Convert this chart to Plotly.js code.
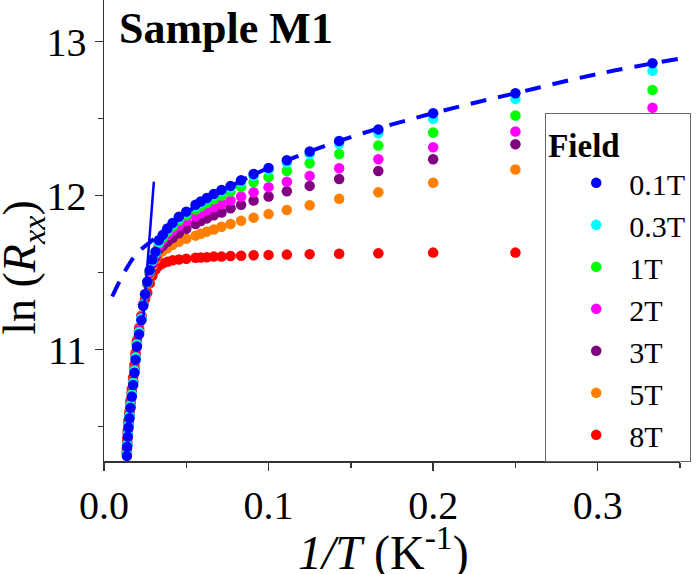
<!DOCTYPE html>
<html>
<head>
<meta charset="utf-8">
<script src="https://cdn.plot.ly/plotly-3.0.1.min.js"></script>
<style>html,body{margin:0;padding:0;background:#fff;}#chart{width:700px;height:574px;}</style>
</head>
<body>
<div id="chart"></div>
<script>
// 1/T values (K^-1) shared by all field series
const invT = [0.3333, 0.25, 0.2, 0.1667, 0.1429, 0.125, 0.1111, 0.1, 0.0909, 0.0833, 0.0769, 0.0714, 0.0667, 0.0625, 0.0588, 0.0556,
  0.05, 0.0455, 0.0417, 0.0385, 0.0357, 0.0333, 0.0313, 0.0294, 0.0278, 0.0263, 0.025,
  0.0238, 0.0227, 0.0213, 0.02, 0.0192, 0.0185, 0.0177, 0.0169, 0.0161, 0.0155, 0.0149, 0.0145, 0.0141, 0.0139];

const fieldLabels = ['0.1T', '0.3T', '1T', '2T', '3T', '5T', '8T'];
const fieldColors = ['#0000ff', '#00ffff', '#00ff00', '#ff00ff', '#800080', '#ff8000', '#ff0000'];

const lnR_01T = [12.86, 12.665, 12.535, 12.43, 12.355, 12.286, 12.23, 12.18, 12.14, 12.10, 12.063, 12.037, 12.011, 11.985, 11.962, 11.94,
  11.896, 11.862, 11.823, 11.786, 11.745, 11.71, 11.635, 11.585, 11.515, 11.44, 11.36,
  11.285, 11.19, 11.10, 11.02, 10.935, 10.85, 10.77, 10.695, 10.623, 10.554, 10.494, 10.435, 10.37, 10.31];
const lnR_03T = [12.81, 12.628, 12.498, 12.405, 12.335, 12.27, 12.215, 12.168, 12.128, 12.09, 12.053, 12.028, 12.002, 11.977, 11.954, 11.932,
  11.89, 11.855, 11.816, 11.78, 11.74, 11.70, 11.63, 11.58, 11.51, 11.44, 11.36,
  11.29, 11.20, 11.11, 11.03, 10.945, 10.86, 10.78, 10.705, 10.633, 10.565, 10.505, 10.445, 10.38, 10.32];
const lnR_1T = [12.686, 12.52, 12.41, 12.325, 12.27, 12.21, 12.16, 12.12, 12.087, 12.055, 12.026, 12.0, 11.976, 11.952, 11.93, 11.91,
  11.872, 11.838, 11.80, 11.765, 11.728, 11.69, 11.625, 11.575, 11.51, 11.435, 11.36,
  11.29, 11.20, 11.115, 11.035, 10.95, 10.865, 10.785, 10.71, 10.64, 10.57, 10.51, 10.45, 10.385, 10.325];
const lnR_2T = [12.57, 12.416, 12.314, 12.236, 12.178, 12.128, 12.09, 12.055, 12.022, 11.994, 11.968, 11.946, 11.925, 11.905, 11.886, 11.866,
  11.835, 11.805, 11.772, 11.742, 11.71, 11.675, 11.615, 11.57, 11.505, 11.435, 11.36,
  11.295, 11.205, 11.12, 11.04, 10.955, 10.87, 10.79, 10.715, 10.645, 10.575, 10.515, 10.455, 10.39, 10.33];
const lnR_3T = [12.48, 12.334, 12.236, 12.16, 12.108, 12.063, 12.028, 11.994, 11.968, 11.94, 11.918, 11.89, 11.872, 11.852, 11.835, 11.815,
  11.785, 11.755, 11.725, 11.70, 11.675, 11.65, 11.60, 11.56, 11.50, 11.43, 11.36,
  11.295, 11.21, 11.125, 11.045, 10.96, 10.875, 10.795, 10.72, 10.65, 10.58, 10.52, 10.46, 10.395, 10.335];
const lnR_5T = [12.30, 12.17, 12.084, 12.022, 11.979, 11.937, 11.907, 11.88, 11.857, 11.836, 11.816, 11.798, 11.78, 11.766, 11.752, 11.74,
  11.72, 11.70, 11.68, 11.66, 11.64, 11.62, 11.585, 11.545, 11.49, 11.425, 11.355,
  11.295, 11.215, 11.13, 11.05, 10.965, 10.88, 10.80, 10.725, 10.655, 10.59, 10.53, 10.47, 10.405, 10.345];
const lnR_8T = [11.64, 11.63, 11.63, 11.626, 11.622, 11.62, 11.617, 11.615, 11.613, 11.61, 11.608, 11.604, 11.604, 11.60, 11.598, 11.596,
  11.59, 11.585, 11.58, 11.57, 11.56, 11.545, 11.52, 11.48, 11.43, 11.37, 11.33,
  11.29, 11.22, 11.14, 11.06, 10.98, 10.90, 10.82, 10.745, 10.67, 10.60, 10.54, 10.48, 10.42, 10.36];

// fit lines
const fitDashX = [0.005, 0.01, 0.015, 0.02, 0.03, 0.04, 0.05, 0.07, 0.1, 0.15, 0.2, 0.25, 0.3, 0.35];
const fitDashY = [11.345, 11.455, 11.55, 11.625, 11.715, 11.81, 11.89, 12.02, 12.18, 12.38, 12.535, 12.665, 12.79, 12.89];
const fitSolidX = [0.0239, 0.0303];
const fitSolidY = [11.21, 12.091];

const series = [lnR_01T, lnR_03T, lnR_1T, lnR_2T, lnR_3T, lnR_5T, lnR_8T];

const FONT = 'Liberation Serif';
const traces = [];
// draw high field first so 0.1T ends on top
for (let i = series.length - 1; i >= 0; i--) {
  traces.push({
    x: invT, y: series[i], type: 'scatter', mode: 'markers',
    name: fieldLabels[i], legendgroup: fieldLabels[i],
    marker: {color: fieldColors[i], size: 10.5}
  });
}
traces.push({x: fitDashX, y: fitDashY, type: 'scatter', mode: 'lines', showlegend: false,
  line: {color: '#0000ff', width: 4, dash: '16px,12px', shape: 'spline'}});
traces.push({x: fitSolidX, y: fitSolidY, type: 'scatter', mode: 'lines', showlegend: false,
  line: {color: '#0000ff', width: 2.5}});

const layout = {
  width: 700, height: 574,
  margin: {l: 104, r: 20, t: 0, b: 113},
  paper_bgcolor: '#fff', plot_bgcolor: '#fff',
  font: {family: FONT, color: '#000'},
  showlegend: true,
  xaxis: {
    range: [0, 0.35], showgrid: false, zeroline: false,
    showline: true, linecolor: '#333', linewidth: 1.5,
    ticks: 'outside', ticklen: 8, tickwidth: 1.5, tickcolor: '#333',
    tickvals: [0, 0.1, 0.2, 0.3], ticktext: ['0.0', '0.1', '0.2', '0.3'],
    tickfont: {size: 40, family: FONT},
    minor: {tickvals: [0.05, 0.15, 0.25, 0.35], ticks: 'outside', ticklen: 5, tickwidth: 1.5, tickcolor: '#333'}
  },
  yaxis: {
    range: [10.277, 13.27], showgrid: false, zeroline: false,
    showline: true, linecolor: '#333', linewidth: 1.5,
    ticks: 'outside', ticklen: 8, tickwidth: 1.5, tickcolor: '#333',
    tickvals: [11, 12, 13],
    tickfont: {size: 40, family: FONT},
    minor: {tickvals: [10.5, 11.5, 12.5], ticks: 'outside', ticklen: 5, tickwidth: 1.5, tickcolor: '#333'}
  },
  legend: {
    x: 0.766, y: 0.755, xanchor: 'left', yanchor: 'top',
    bgcolor: '#fff', bordercolor: '#666', borderwidth: 1,
    font: {size: 30, family: FONT},
    title: {text: '<b>Field</b>', font: {size: 33, family: FONT}},
    traceorder: 'reversed', tracegroupgap: 0, indentation: 17, itemwidth: 56
  },
  annotations: [
    {text: '<b>Sample M1</b>', xref: 'paper', yref: 'paper', x: 0.0226, y: 0.939,
     xanchor: 'left', yanchor: 'middle', showarrow: false, font: {size: 44, family: FONT}},
    {text: 'ln (<i>R</i><sub><i>xx</i></sub>)', xref: 'paper', yref: 'paper', x: -0.14, y: 0.42,
     xanchor: 'center', yanchor: 'middle', textangle: -90, showarrow: false, font: {size: 46, family: FONT}},
    {text: '<i>1/T</i> (K<sup>-1</sup>)', xref: 'paper', yref: 'paper', x: 0.485, y: -0.192,
     xanchor: 'center', yanchor: 'middle', showarrow: false, font: {size: 48, family: FONT}}
  ]
};

Plotly.newPlot('chart', traces, layout, {displayModeBar: false, staticPlot: true});
</script>
</body>
</html>
